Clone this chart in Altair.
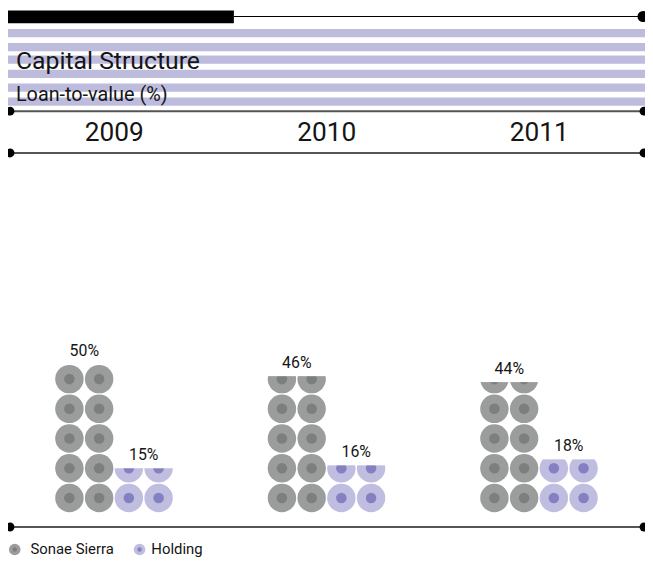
import math
import altair as alt
import pandas as pd

# ---- data ----
years = ["2009", "2010", "2011"]
series = ["Sonae Sierra", "Holding"]
sonae_ltv = [50, 46, 44]
holding_ltv = [15, 16, 18]
title_text = "Capital Structure"
subtitle_text = "Loan-to-value (%)"

# ---- style ----
FONT = "Roboto"
TXT = "#151515"
GRAY_OUT = "#9a9d9c"
GRAY_IN = "#7b7f7e"
PURP_OUT = "#c0bee0"
PURP_IN = "#8480c1"
STRIPE = "#bebcdd"
LINE = "#555555"
W, H = 643, 554

values = {"Sonae Sierra": sonae_ltv, "Holding": holding_ltv}

circle_rows, crop_rows, label_rows = [], [], []
for i, yr in enumerate(years):
    for s_idx, s in enumerate(series):
        v = values[s][i]
        n = math.ceil(v / 10)
        for c in range(2):
            slot = s_idx * 2 + c
            for k in range(n):
                circle_rows.append({"year": yr, "series": s, "slot": slot, "mid": k * 10 + 5})
            if v % 10:
                crop_rows.append({"year": yr, "slot": slot, "lo": v, "hi": n * 10 + 1})
        label_rows.append({"year": yr, "series": s, "slot": s_idx * 2, "value": v, "label": f"{v}%"})

circ_df = pd.DataFrame(circle_rows)
crop_df = pd.DataFrame(crop_rows)
lab_df = pd.DataFrame(label_rows)
year_df = pd.DataFrame({"year": years})
dummy = pd.DataFrame({"d": [0]})

x_scale = alt.Scale(type="band", domain=years, range=[0, 643.5], paddingInner=0, paddingOuter=0)
off_scale = alt.Scale(type="band", domain=[0, 1, 2, 3], range=[47, 167], paddingInner=0, paddingOuter=0)
y_scale = alt.Scale(domain=[0, 100], range=[507, 207], zero=False, nice=False)

X = alt.X("year:N", scale=x_scale, axis=None)
XO = alt.XOffset("slot:O", scale=off_scale)


def rect(x1, x2, y1, y2, color):
    return alt.Chart(dummy).mark_rect(color=color).encode(
        x=alt.value(x1), x2=alt.value(x2), y=alt.value(y1), y2=alt.value(y2))


def rule(x1, x2, y, color, w):
    return alt.Chart(dummy).mark_rule(color=color, strokeWidth=w).encode(
        x=alt.value(x1), x2=alt.value(x2), y=alt.value(y))


def dot(x, y, size, color):
    return alt.Chart(dummy).mark_circle(size=size, color=color, opacity=1).encode(
        x=alt.value(x), y=alt.value(y))


def label(x, y, txt, size, baseline="alphabetic"):
    return alt.Chart(dummy).mark_text(text=txt, font=FONT, fontSize=size, color=TXT,
                                      align="left", baseline=baseline).encode(
        x=alt.value(x), y=alt.value(y))


layers = []
# header stripes
for top in [18.7, 32.7, 45.3, 59.7, 73.7, 87.7]:
    layers.append(rect(0, 643, top, top + 8.3, STRIPE))
layers.append(rect(0, 228, 0, 12.7, "#000000"))
layers.append(rule(228, 641, 6, "#000000", 1.2))
layers.append(dot(641, 6, 125, "#000000"))
layers.append(label(8, 58.7, title_text, 25))
layers.append(label(8, 91.3, subtitle_text, 20))
for ly in [101.5, 143.7, 521.3]:
    layers.append(rule(2, 642, ly, LINE, 2))
    layers.append(dot(2, ly, 81, "#000000"))
    layers.append(dot(642, ly, 81, "#000000"))

# year headings
layers.append(alt.Chart(year_df).mark_text(font=FONT, fontSize=26.5, color=TXT,
                                           baseline="alphabetic").encode(
    x=X, y=alt.value(131.3), text="year:N"))

# stacked circles (vega symbol size = diameter squared)
outer = alt.Chart(circ_df).mark_circle(size=824, opacity=1).encode(
    x=X, xOffset=XO, y=alt.Y("mid:Q", scale=y_scale, axis=None),
    color=alt.Color("series:N", scale=alt.Scale(domain=series, range=[GRAY_OUT, PURP_OUT]), legend=None))
inner = alt.Chart(circ_df).mark_circle(size=114, opacity=1).encode(
    x=X, xOffset=XO, y=alt.Y("mid:Q", scale=y_scale, axis=None),
    fill=alt.Fill("series:N", scale=alt.Scale(domain=series, range=[GRAY_IN, PURP_IN]), legend=None))
crop = alt.Chart(crop_df).mark_bar(color="white").encode(
    x=X, xOffset=XO, y=alt.Y("lo:Q", scale=y_scale, axis=None), y2="hi:Q")
labels = alt.Chart(lab_df).mark_text(font=FONT, fontSize=16, color=TXT, dx=15, dy=-8,
                                     baseline="alphabetic", align="center").encode(
    x=X, xOffset=XO, y=alt.Y("value:Q", scale=y_scale, axis=None), text="label:N")
layers += [outer, inner, crop, labels]

# legend
leg_y = 544
for sx, tx, name, co, ci in [(6.8, 22.7, series[0], GRAY_OUT, GRAY_IN),
                             (132.8, 144.7, series[1], PURP_OUT, PURP_IN)]:
    layers.append(dot(sx, leg_y, 137, co))
    layers.append(dot(sx, leg_y, 20, ci))
    layers.append(label(tx, leg_y, name, 15, baseline="middle"))

chart = alt.layer(*layers).properties(
    width=W, height=H, padding=0,
    autosize=alt.AutoSizeParams(type="none"),
).configure_view(strokeWidth=0)

chart.save("out.html", embed_options={"renderer": "svg", "actions": False})
